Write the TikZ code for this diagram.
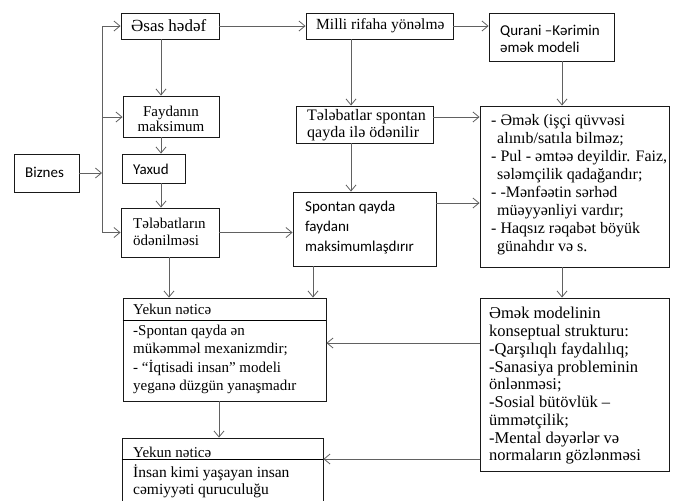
\documentclass[tikz,border=0pt]{standalone}
\usepackage{fontspec}
\setmainfont{Liberation Serif}
\newfontfamily\sansf{Carlito}
\usetikzlibrary{arrows.meta,fit}
\newcommand\fsz[2]{\fontsize{#1pt}{#2pt}\selectfont}
\begin{document}
\begin{tikzpicture}[x=1pt,y=-1pt,
  box/.style={draw=black!90, line width=0.9pt, inner sep=0pt, fit={#1}},
  tx/.style={inner sep=0pt, align=left, anchor=west, text=black},
  conn/.style={draw=black!62, line width=0.9pt},
  arr/.style={conn, -{Straight Barb[length=6pt,width=10pt,line width=0.8pt]}}]
\useasboundingbox (0,0) rectangle (678,501);
% boxes
\node[box={(14,154)(79,192)}] (biz) {};
\node[box={(121,13)(219,39)}] (asas) {};
\node[box={(123,96)(219,137)}] (fay) {};
\node[box={(122,154)(185,183)}] (yax) {};
\node[box={(121,208)(219,257)}] (tel) {};
\node[box={(306,13)(453,39)}] (mil) {};
\node[box={(489,13)(614,61)}] (qur) {};
\node[box={(296,106)(433,143)}] (tsp) {};
\node[box={(293,192)(436,266)}] (spo) {};
\node[box={(480,106)(669,267)}] (rb) {};
\node[box={(123,298)(326,401)}] (yek1) {};
\node[box={(480,298)(669,471)}] (emk) {};
\node[box={(122,438)(323,512)}] (yek2) {};
% texts
\node[tx, font=\sansf\fsz{15}{18}] (tbiz) at (25,172) {Biznes};
\node[tx, font=\fsz{17}{18}] (tasas) at (131,26) {Əsas hədəf};
\node[inner sep=0pt, align=center, font=\fsz{15}{15.5}] (tfay) at (171,119) {Faydanın\\maksimum};
\node[tx, font=\sansf\fsz{15}{18}] (tyax) at (133,169) {Yaxud};
\node[tx, font=\fsz{15}{17}] (ttel) at (133,231.5) {Tələbatların\\ödənilməsi};
\node[tx, font=\fsz{15.5}{18}] (tmil) at (316,26) {Milli rifaha yönəlmə};
\node[tx, font=\sansf\fsz{15}{17}] (tqur) at (500,38.5) {Qurani –Kərimin\\əmək modeli};
\node[tx, font=\fsz{16}{16.5}] (ttsp) at (307,125) {Tələbatlar spontan\\qayda ilə ödənilir};
\node[tx, font=\sansf\fsz{15}{20}] (tspo) at (305,228) {Spontan qayda\\faydanı\\maksimumlaşdırır};
\node[tx, font=\fsz{16}{17.9}] (trb) at (491,184.6) {- Əmək (işçi qüvvəsi\\\hspace*{6pt}alınıb/satıla bilməz;\\- Pul - əmtəə deyildir. Faiz,\\\hspace*{6pt}sələmçilik qadağandır;\\- -Mənfəətin sərhəd\\\hspace*{6pt}müəyyənliyi vardır;\\- Haqsız rəqabət böyük\\\hspace*{6pt}günahdır və s.};
\node[tx, font=\fsz{15}{18}] (tyek1h) at (133,309) {Yekun nəticə};
\node[tx, font=\fsz{15}{18.3}] (tyek1) at (133,359.5) {-Spontan qayda ən\\mükəmməl mexanizmdir;\\- “İqtisadi insan” modeli\\yeganə düzgün yanaşmadır};
\node[tx, font=\fsz{16.5}{17.75}] (temk) at (489,386) {Əmək modelinin\\konseptual strukturu:\\-Qarşılıqlı faydalılıq;\\-Sanasiya probleminin\\önlənməsi;\\-Sosial bütövlük –\\ümmətçilik;\\-Mental dəyərlər və\\normaların gözlənməsi};
\node[tx, font=\fsz{15}{18}] (tyek2h) at (133,452) {Yekun nəticə};
\node[tx, font=\fsz{15.5}{17}] (tyek2) at (133,481.5) {İnsan kimi yaşayan insan\\cəmiyyəti quruculuğu};
% header separators
\draw[line width=0.9pt] (yek1.west |- 0,320) -- (yek1.east |- 0,320);
\draw[line width=0.9pt] (yek2.west |- 0,459) -- (yek2.east |- 0,459);
% helper coordinates
\coordinate (tA) at (102,26);
\coordinate (tB) at (102,117);
\coordinate (tC) at (102,232.5);
\coordinate (tM) at (102,173);
\coordinate (c1) at (161,0);
\coordinate (c2) at (351,0);
\coordinate (c3) at (562,0);
\coordinate (c4) at (313,0);
\coordinate (c5) at (219,0);
\coordinate (c6) at (169,0);
\coordinate (r1) at (0,117);
\coordinate (r2) at (0,203);
\coordinate (r3) at (0,343);
\coordinate (r4) at (0,459);
% connectors
\draw[arr] (biz.east |- tM) -- (tM);
\draw[conn] (tA) -- (tC);
\draw[arr] (tA) -- (asas.west);
\draw[arr] (tB) -- (fay.west |- tB);
\draw[arr] (tC) -- (tel.west |- tC);
\draw[arr] (asas.south -| c1) -- (fay.north -| c1);
\draw[arr] (fay.south -| c1) -- (yax.north -| c1);
\draw[arr] (yax.south -| c1) -- (tel.north -| c1);
\draw[arr] (asas.east) -- (mil.west);
\draw[arr] (mil.east) -- (mil.east -| qur.west);
\draw[arr] (mil.south -| c2) -- (tsp.north -| c2);
\draw[arr] (tsp.south -| c2) -- (spo.north -| c2);
\draw[arr] (qur.south -| c3) -- (rb.north -| c3);
\draw[arr] (rb.south -| c3) -- (emk.north -| c3);
\draw[arr] (tsp.east |- r1) -- (rb.west |- r1);
\draw[arr] (spo.east |- r2) -- (rb.west |- r2);
\draw[arr] (tel.east |- tC) -- (spo.west |- tC);
\draw[arr] (tel.south -| c6) -- (yek1.north -| c6);
\draw[arr] (spo.south -| c4) -- (yek1.north -| c4);
\draw[arr] (emk.west |- r3) -- (yek1.east |- r3);
\draw[arr] (emk.west |- r4) -- (yek2.east |- r4);
\draw[arr] (yek1.south -| c5) -- (yek2.north -| c5);
\end{tikzpicture}
\end{document}
